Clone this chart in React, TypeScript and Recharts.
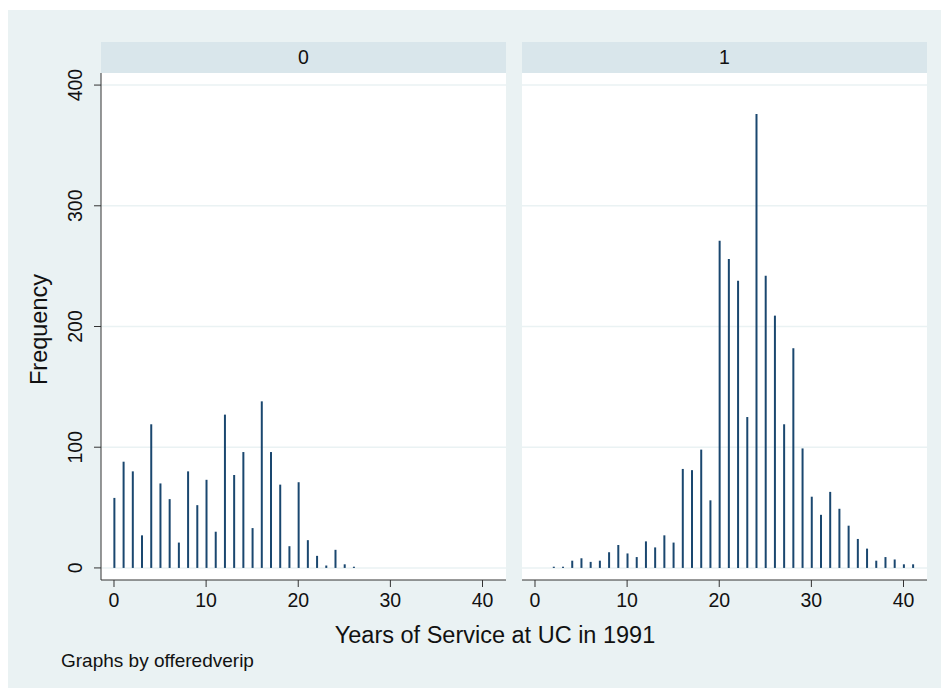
import React from "react";
import { BarChart, Bar, XAxis, YAxis, CartesianGrid, Label } from "recharts";

// offeredverip = 0
const years0 = [0, 1, 2, 3, 4, 5, 6, 7, 8, 9, 10, 11, 12, 13, 14, 15, 16, 17, 18, 19, 20, 21, 22, 23, 24, 25, 26];
const counts0 = [58, 88, 80, 27, 119, 70, 57, 21, 80, 52, 73, 30, 127, 77, 96, 33, 138, 96, 69, 18, 71, 23, 10, 2, 15, 3, 1];

// offeredverip = 1
const years1 = [2, 3, 4, 5, 6, 7, 8, 9, 10, 11, 12, 13, 14, 15, 16, 17, 18, 19, 20, 21, 22, 23, 24, 25, 26, 27, 28, 29, 30, 31, 32, 33, 34, 35, 36, 37, 38, 39, 40, 41];
const counts1 = [1, 1, 6, 8, 5, 6, 13, 19, 12, 9, 22, 17, 27, 21, 82, 81, 98, 56, 271, 256, 238, 125, 376, 242, 209, 119, 182, 99, 59, 44, 63, 49, 35, 24, 16, 6, 9, 7, 3, 3];

const panelLabels = ["0", "1"];
const xTicks = [0, 10, 20, 30, 40];
const yTicks = [0, 100, 200, 300, 400];

const FONT = "'Liberation Sans', Arial, Helvetica, sans-serif";
const BG = "#eaf2f3";
const STRIP = "#d9e6eb";
const BAR = "#1a476f";
const AXIS = "#333";
const TOP_PAD = 30; // room above the plot so rotated tick labels are not cut

const toRows = (xs: number[], ys: number[]) => xs.map((x, i) => ({ x, freq: ys[i] }));

const YTick = (props: any) => {
  const { x, y, payload } = props;
  return (
    <text
      transform={`translate(${x - 10},${y}) rotate(-90)`}
      textAnchor="middle"
      fontSize={19.5}
      fill="#111"
      fontFamily={FONT}
    >
      {payload.value}
    </text>
  );
};

const FreqLabel = (props: any) => {
  const vb = props.viewBox || { x: 0, y: 0, height: 507 };
  const cy = vb.y + vb.height / 2 + 3;
  return (
    <text
      transform={`translate(${vb.x + 47},${cy}) rotate(-90)`}
      textAnchor="middle"
      fontSize={23.5}
      fill="#111"
      fontFamily={FONT}
    >
      Frequency
    </text>
  );
};

function Panel({ rows, showY }: { rows: { x: number; freq: number }[]; showY: boolean }) {
  return (
    <BarChart
      width={showY ? 506 : 405}
      height={547 + TOP_PAD}
      data={rows}
      margin={{ top: TOP_PAD, right: 0, bottom: 0, left: 0 }}
      barCategoryGap={0}
    >
      <CartesianGrid fill="#fff" vertical={false} stroke={BG} strokeWidth={1.6} horizontalValues={yTicks} />
      <XAxis
        dataKey="x"
        type="number"
        domain={[-1.41, 42.55]}
        ticks={xTicks}
        allowDataOverflow
        height={40}
        tickSize={7}
        tickMargin={6}
        stroke={AXIS}
        tick={{ fontSize: 19.5, fill: "#111", fontFamily: FONT }}
      />
      <YAxis
        type="number"
        domain={[-10, 410]}
        ticks={yTicks}
        allowDataOverflow
        width={101}
        hide={!showY}
        tickSize={7}
        tickMargin={2}
        stroke={AXIS}
        tick={<YTick />}
      >
        <Label content={<FreqLabel />} />
      </YAxis>
      <Bar dataKey="freq" fill={BAR} barSize={2} isAnimationActive={false} />
    </BarChart>
  );
}

export default function App() {
  const strip = (left: number, text: string) => (
    <div
      style={{
        position: "absolute",
        left,
        top: 42,
        width: 405,
        height: 31,
        background: STRIP,
        textAlign: "center",
        lineHeight: "30px",
        fontSize: 19.5,
        fontFamily: FONT,
        color: "#111",
      }}
    >
      {text}
    </div>
  );

  return (
    <div style={{ position: "relative", width: 949, height: 696, margin: -8, background: "#fff", overflow: "hidden" }}>
      <div style={{ position: "absolute", left: 4, top: 10, right: 0, bottom: 0, background: BG }} />
      {strip(101, panelLabels[0])}
      {strip(522, panelLabels[1])}
      <div style={{ position: "absolute", left: 0, top: 73 - TOP_PAD }}>
        <Panel rows={toRows(years0, counts0)} showY />
      </div>
      <div style={{ position: "absolute", left: 522, top: 73 - TOP_PAD }}>
        <Panel rows={toRows(years1, counts1)} showY={false} />
      </div>
      <svg style={{ position: "absolute", left: 0, top: 0 }} width={949} height={696} pointerEvents="none">
        <text x={495} y={643} textAnchor="middle" fontSize={23.5} fill="#111" fontFamily={FONT}>
          Years of Service at UC in 1991
        </text>
        <text x={61} y={667} fontSize={19} fill="#111" fontFamily={FONT}>
          Graphs by offeredverip
        </text>
      </svg>
    </div>
  );
}
